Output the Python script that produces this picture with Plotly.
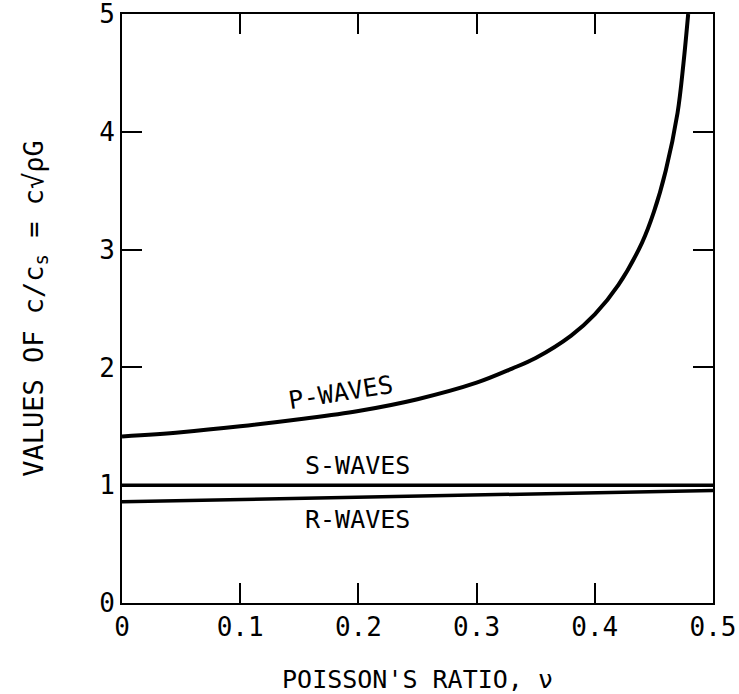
import plotly.graph_objects as go

# Poisson's ratio samples and read-off wave speed ratios
nu_p = [0.0, 0.05, 0.10, 0.15, 0.20, 0.25, 0.30, 0.33, 0.35, 0.38, 0.40, 0.42, 0.44, 0.45, 0.46, 0.47, 0.475, 0.479]
p_waves = [1.414, 1.45, 1.50, 1.56, 1.63, 1.73, 1.87, 1.99, 2.08, 2.27, 2.45, 2.70, 3.06, 3.32, 3.67, 4.16, 4.58, 5.0]
nu_s = [0.0, 0.5]
s_waves = [1.0, 1.0]
nu_r = [0.0, 0.1, 0.2, 0.3, 0.4, 0.5]
r_waves = [0.86, 0.88, 0.90, 0.92, 0.94, 0.955]

x_ticks = [0, 0.1, 0.2, 0.3, 0.4, 0.5]
x_tick_text = ["0", "0.1", "0.2", "0.3", "0.4", "0.5"]
y_ticks = [0, 1, 2, 3, 4, 5]

FONT = "DejaVu Sans Mono"

fig = go.Figure()
fig.add_trace(go.Scatter(x=nu_p, y=p_waves, mode="lines", line=dict(color="black", width=4, shape="spline"), showlegend=False))
fig.add_trace(go.Scatter(x=nu_s, y=s_waves, mode="lines", line=dict(color="black", width=3.5), showlegend=False))
fig.add_trace(go.Scatter(x=nu_r, y=r_waves, mode="lines", line=dict(color="black", width=3.5), showlegend=False))

fig.add_annotation(x=0.185, y=1.79, text="P-WAVES", showarrow=False, textangle=-9,
                   font=dict(family=FONT, size=25, color="black"))
fig.add_annotation(x=0.199, y=1.165, text="S-WAVES", showarrow=False,
                   font=dict(family=FONT, size=25, color="black"))
fig.add_annotation(x=0.199, y=0.71, text="R-WAVES", showarrow=False,
                   font=dict(family=FONT, size=25, color="black"))

axis_common = dict(showgrid=False, zeroline=False, showline=True, linecolor="black", linewidth=2,
                   mirror="ticks", ticks="inside", ticklen=20, tickwidth=1.5, tickcolor="black",
                   automargin=False, ticklabeloverflow="allow",
                   tickfont=dict(family=FONT, size=26, color="black"))

fig.update_xaxes(range=[0, 0.5], tickvals=x_ticks, ticktext=x_tick_text,
                 title=dict(text="POISSON'S RATIO, ν", font=dict(family=FONT, size=25, color="black"), standoff=36),
                 **axis_common)
fig.update_yaxes(range=[0, 5], tickvals=y_ticks,
                 title=dict(text="VALUES OF c/c<sub>s</sub> = c√ρG", font=dict(family=FONT, size=27, color="black"), standoff=48),
                 **axis_common)

fig.update_layout(width=739, height=694, margin=dict(l=122, r=26, t=14, b=91),
                  plot_bgcolor="white", paper_bgcolor="white")

fig.write_html("out.html")
